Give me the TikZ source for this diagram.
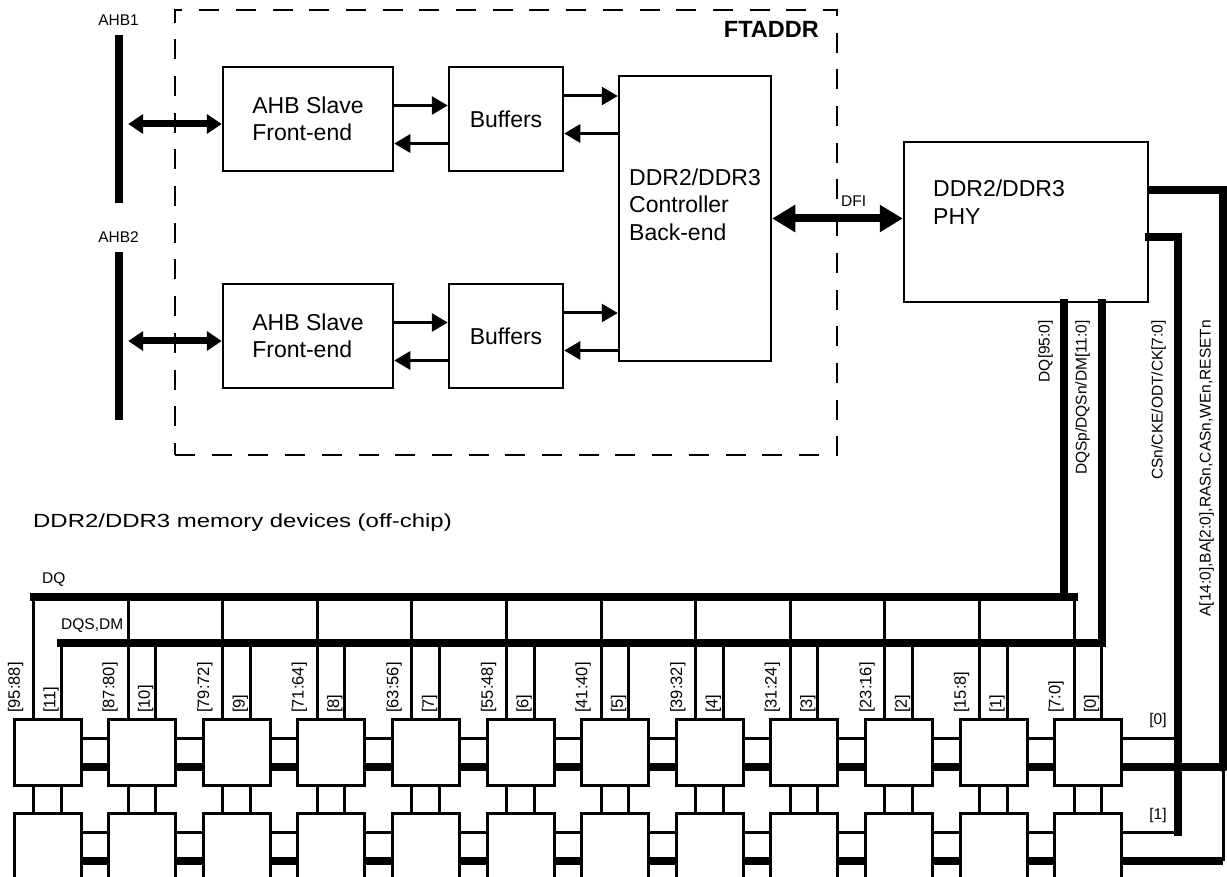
\documentclass[tikz,border=0pt]{standalone}
\usepackage{fontspec}
\setmainfont{Liberation Sans}
\usepackage{graphicx}
\usetikzlibrary{positioning, arrows.meta}

\begin{document}
\begin{tikzpicture}[x=1pt, y=-1pt,
  txt/.style={align=left, inner sep=0pt, font=\fontsize{23}{27.5}\selectfont},
  blk/.style={txt, draw, line width=2.5pt},
  chip/.style={draw, fill=white, line width=3pt, minimum width=67pt, minimum height=66pt,
               inner sep=0pt, outer sep=0pt},
  lbl/.style={inner sep=0pt, font=\fontsize{15.5}{18}\selectfont},
  pin/.style={lbl, rotate=90, anchor=south west, font=\fontsize{16.5}{19}\selectfont},
  wire/.style={line width=3pt},
  bus/.style={line width=8pt},
  sigarr/.style={line width=3pt, -{Triangle[length=16pt, width=18pt]}},
  ahbarr/.style={line width=7pt, {Triangle[length=15pt, width=19pt]}-{Triangle[length=15pt, width=19pt]}},
  dfiarr/.style={line width=8pt, {Triangle[length=23pt, width=26pt]}-{Triangle[length=23pt, width=26pt]}}]

  \clip (0,0) rectangle (1227,877);

  \node[draw, line width=2pt, dash pattern=on 20pt off 16.7pt,
        minimum width=662pt, minimum height=445pt] (ftaddr) at (506,232.5) {};
  \node[inner sep=0pt, anchor=east, font=\fontsize{23.5}{28}\selectfont\bfseries] (ftname) at (819,29) {FTADDR};

  \node[blk, minimum width=152pt, minimum height=285pt] (ctrl) at (695,218.5) {};
  \node[txt, anchor=west] (ctrltxt) at (629,204.5) {DDR2/DDR3\\Controller\\Back-end};

  \foreach \i/\y in {1/119, 2/336} {
    \node[fill, minimum width=8pt, minimum height=168pt, inner sep=0pt] (bar\i) at (118.5,\y) {};
    \node[lbl, above=9pt of bar\i] (ahb\i) {AHB\i};
    \node[blk, minimum width=170pt, minimum height=104pt] (fe\i) at (308,\y) {AHB Slave\\Front-end};
    \node[blk, minimum width=114pt, minimum height=104pt] (buf\i) at (506,\y) {Buffers};
    \draw[ahbarr] ([xshift=5.5pt, yshift=-5pt]bar\i.east) -- ([yshift=-5pt]fe\i.west);
    \draw[sigarr] ([yshift=13.5pt]fe\i.east) -- ([yshift=13.5pt]fe\i.east -| buf\i.west);
    \draw[sigarr] ([yshift=-24.5pt]buf\i.west) -- ([yshift=-24.5pt]buf\i.west -| fe\i.east);
    \draw[sigarr] ([yshift=23pt]buf\i.east) -- ([yshift=23pt]buf\i.east -| ctrl.west);
    \draw[sigarr] ([yshift=-14.5pt]buf\i.east -| ctrl.west) -- ([yshift=-14.5pt]buf\i.east);
  }

  \node[blk, minimum width=244pt, minimum height=160pt] (phy) at (1026,222) {};
  \node[txt, anchor=west] (phytxt) at (933,202) {DDR2/DDR3\\PHY};
  \draw[dfiarr] (ctrl.east) -- (ctrl.east -| phy.west);
  \node[lbl, anchor=west] (dfi) at (841,201) {DFI};

  \node[inner sep=0pt, anchor=west, font=\fontsize{19}{22}\selectfont] (memtxt) at (33,522.5)
    {\scalebox{1.26}[1]{DDR2/DDR3 memory devices (off-chip)}};

  % memory devices, two ranks
  \coordinate (dqw) at (0,597);
  \coordinate (dqsw) at (0,643);
  \foreach \dq/\dqs [count=\k] in {95:88/11, 87:80/10, 79:72/9, 71:64/8, 63:56/7, 55:48/6,
                                   41:40/5, 39:32/4, 31:24/3, 23:16/2, 15:8/1, 7:0/0} {
    \pgfmathsetmacro\cx{47.5+94.6*(\k-1)}
    \node[chip] (chipA\k) at (\cx,752) {};
    \node[chip] (chipB\k) at (\cx,846) {};
    \coordinate (q\k) at ([xshift=19.5pt]chipA\k.north west);
    \coordinate (s\k) at ([xshift=47pt]chipA\k.north west);
    \draw[wire] (q\k) -- (q\k |- dqw);
    \draw[wire] (s\k) -- (s\k |- dqsw);
    \draw[wire] (q\k |- chipA\k.south) -- (q\k |- chipB\k.north);
    \draw[wire] (s\k |- chipA\k.south) -- (s\k |- chipB\k.north);
    \node[pin] (dql\k) at ([xshift=-10pt, yshift=6pt]q\k) {[\dq]};
    \node[pin] (dqsl\k) at ([xshift=-2pt, yshift=6pt]s\k) {[\dqs]};
  }
  \foreach \k [evaluate=\k as \j using int(\k+1)] in {1,...,11} {
    \foreach \r in {A,B} {
      \draw[wire] ([yshift=14pt]chip\r\k.east) -- ([yshift=14pt]chip\r\j.west);
      \draw[bus] ([yshift=-15pt]chip\r\k.east) -- ([yshift=-15pt]chip\r\j.west);
    }
  }

  \draw[bus, line cap=rect] (q1 |- dqw) -- (q12 |- dqw);
  \draw[bus, line cap=rect] (s1 |- dqsw) -- (s12 |- dqsw);
  \node[lbl, anchor=west] (dqlbl) at (42,579.5) {DQ};
  \node[lbl, anchor=west] (dqslbl) at (61,626) {DQS,DM};

  % PHY to memory
  \coordinate (phya) at ([yshift=32pt]phy.east);
  \coordinate (phyc) at ([yshift=-15pt]phy.east);
  \coordinate (phyq) at ([xshift=38pt]phy.south);
  \coordinate (phys) at ([xshift=76pt]phy.south);
  \coordinate (csb) at (1178,832);
  \coordinate (dota) at (1223,767);
  \coordinate (botb) at ([yshift=-15pt]chipB12.east);
  \draw[bus, line cap=rect] (phyq) -- (phyq |- dqw);
  \draw[bus, line cap=rect] (phys) -- (phys |- dqsw);
  \draw[bus, line cap=rect] (phyc) -| (csb);
  \draw[bus] (phya) -| (dota);
  \draw[wire] ([yshift=14pt]chipA12.east) -- ([yshift=14pt]chipA12.east -| csb);
  \draw[wire] ([yshift=14pt]chipB12.east) -- ([yshift=14pt]chipB12.east -| csb);
  \draw[bus] ([yshift=-15pt]chipA12.east) -- (dota);
  \draw[wire] (dota) -- (dota |- botb);
  \draw[bus] (botb) -- (dota |- botb);
  \fill (dota) circle (5pt);
  \node[lbl] (rk0) at (1158,720) {[0]};
  \node[lbl] (rk1) at (1158,815) {[1]};

  \node[lbl, rotate=90, anchor=south east] (dqtxt) at (1053,320) {DQ[95:0]};
  \node[lbl, rotate=90, anchor=south east] (dqstxt) at (1090,320) {DQSp/DQSn/DM[11:0]};
  \node[lbl, rotate=90, anchor=south east] (cstxt) at (1166,320) {CSn/CKE/ODT/CK[7:0]};
  \node[lbl, rotate=90, anchor=south east] (adtxt) at (1214,320) {A[14:0],BA[2:0],RASn,CASn,WEn,RESETn};
\end{tikzpicture}
\end{document}
